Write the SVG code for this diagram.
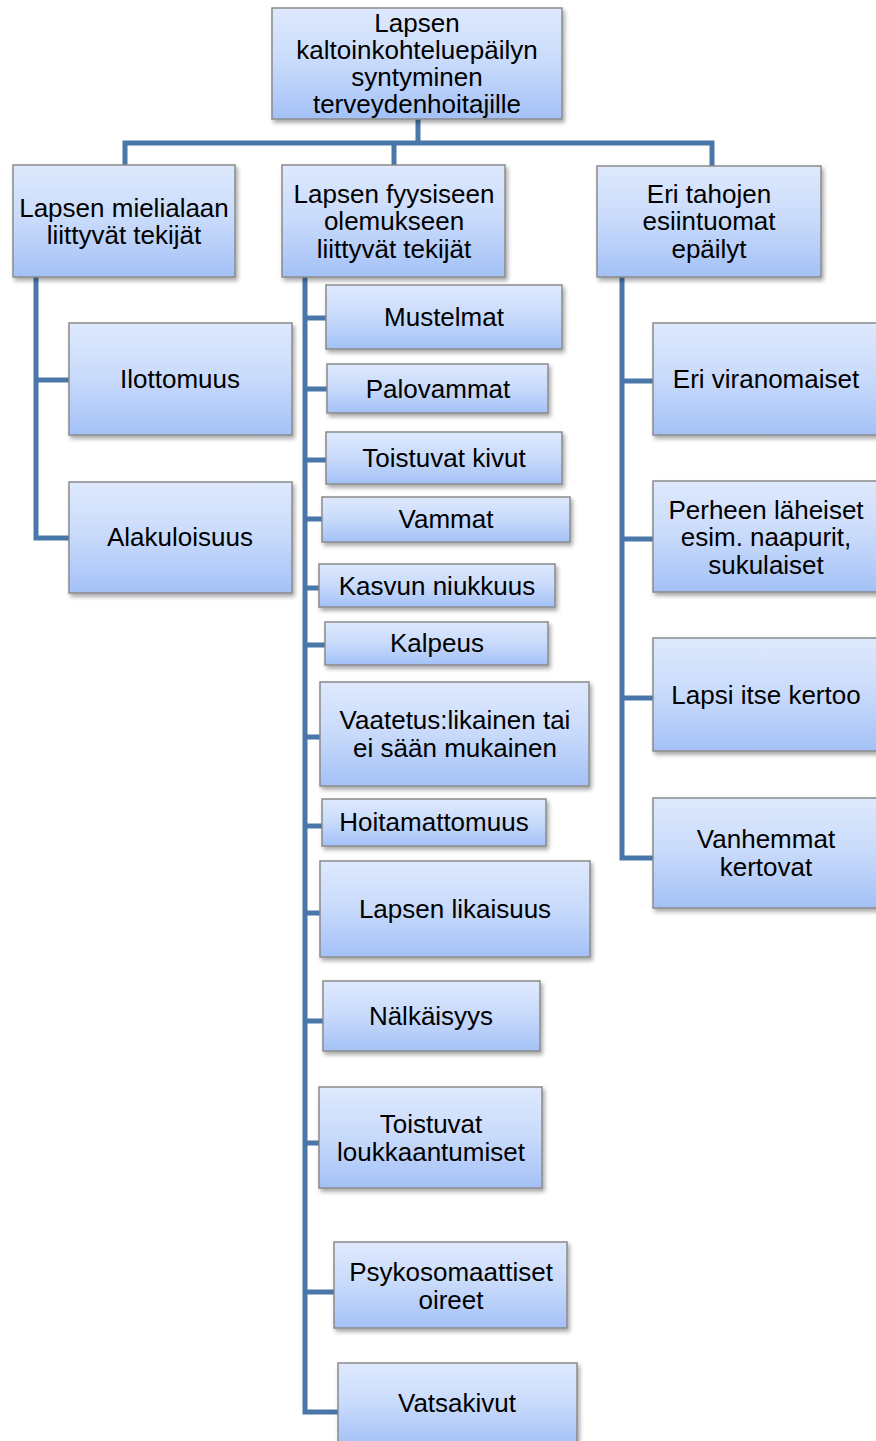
<svg xmlns="http://www.w3.org/2000/svg" width="876" height="1441" viewBox="0 0 876 1441">
<defs>
<linearGradient id="g" x1="0" y1="0" x2="0" y2="1">
<stop offset="0" stop-color="#DEE9FD"/>
<stop offset="0.5" stop-color="#C8DAFB"/>
<stop offset="1" stop-color="#A3C1F7"/>
</linearGradient>
<filter id="sh" x="-10%" y="-10%" width="130%" height="140%">
<feDropShadow dx="2" dy="3" stdDeviation="2" flood-color="#000" flood-opacity="0.35"/>
</filter>
</defs>
<style>
.box{fill:url(#g);stroke:#8A8A8A;stroke-width:1.5;filter:url(#sh)}
.t{font-family:"Liberation Sans",Arial,sans-serif;font-size:26px;fill:#000;text-anchor:middle}
.c{fill:none;stroke:#4A77AA;stroke-width:5;stroke-linejoin:miter;stroke-linecap:butt}
</style>
<rect width="876" height="1441" fill="#fff"/>
<g id="connectors">
<path class="c" d="M418,119 V143"/>
<path class="c" d="M125,165 V143 H712 V166"/>
<path class="c" d="M394,143 V165"/>
<path class="c" d="M36,277 V538 H69"/>
<path class="c" d="M36,380 H69"/>
<path class="c" d="M305,277 V1412 H338"/>
<path class="c" d="M305,318 H326 M305,389 H327 M305,460 H326 M305,519 H322 M305,588 H319 M305,645 H325 M305,737 H320 M305,826 H322 M305,913 H320 M305,1021 H323 M305,1143 H319 M305,1292 H334"/>
<path class="c" d="M622,277 V858 H653"/>
<path class="c" d="M622,381 H653 M622,539 H653 M622,698 H653"/>
</g>
<g id="root"><rect class="box" x="272" y="8" width="290" height="111"/>
<text class="t" x="417" y="32">Lapsen</text><text class="t" x="417" y="59">kaltoinkohteluepäilyn</text><text class="t" x="417" y="86">syntyminen</text><text class="t" x="417" y="113">terveydenhoitajille</text></g>
<g id="left"><rect class="box" x="13" y="165" width="222" height="112"/>
<text class="t" x="124" y="217">Lapsen mielialaan</text><text class="t" x="124" y="244">liittyvät tekijät</text></g>
<g id="mid"><rect class="box" x="282" y="165" width="223" height="112"/>
<text class="t" x="394" y="203">Lapsen fyysiseen</text><text class="t" x="394" y="230">olemukseen</text><text class="t" x="394" y="258">liittyvät tekijät</text></g>
<g id="right"><rect class="box" x="597" y="166" width="224" height="111"/>
<text class="t" x="709" y="203">Eri tahojen</text><text class="t" x="709" y="230">esiintuomat</text><text class="t" x="709" y="258">epäilyt</text></g>
<g id="ilottomuus"><rect class="box" x="69" y="323" width="223" height="112"/><text class="t" x="180" y="388">Ilottomuus</text></g>
<g id="alakuloisuus"><rect class="box" x="69" y="482" width="223" height="111"/><text class="t" x="180" y="546">Alakuloisuus</text></g>
<g id="mustelmat"><rect class="box" x="326" y="285" width="236" height="64"/><text class="t" x="444" y="326">Mustelmat</text></g>
<g id="palovammat"><rect class="box" x="327" y="364" width="221" height="49"/><text class="t" x="438" y="398">Palovammat</text></g>
<g id="kivut"><rect class="box" x="326" y="432" width="236" height="52"/><text class="t" x="444" y="467">Toistuvat kivut</text></g>
<g id="vammat"><rect class="box" x="322" y="497" width="248" height="45"/><text class="t" x="446" y="528">Vammat</text></g>
<g id="kasvun"><rect class="box" x="319" y="564" width="236" height="43"/><text class="t" x="437" y="595">Kasvun niukkuus</text></g>
<g id="kalpeus"><rect class="box" x="325" y="622" width="223" height="43"/><text class="t" x="437" y="652">Kalpeus</text></g>
<g id="vaatetus"><rect class="box" x="320" y="682" width="269" height="104"/><text class="t" x="455" y="729">Vaatetus:likainen tai</text><text class="t" x="455" y="757">ei sään mukainen</text></g>
<g id="hoitamattomuus"><rect class="box" x="322" y="799" width="224" height="47"/><text class="t" x="434" y="831">Hoitamattomuus</text></g>
<g id="likaisuus"><rect class="box" x="320" y="861" width="270" height="96"/><text class="t" x="455" y="918">Lapsen likaisuus</text></g>
<g id="nalkaisyys"><rect class="box" x="323" y="981" width="217" height="70"/><text class="t" x="431" y="1025">Nälkäisyys</text></g>
<g id="loukkaantumiset"><rect class="box" x="319" y="1087" width="223" height="101"/><text class="t" x="431" y="1133">Toistuvat</text><text class="t" x="431" y="1161">loukkaantumiset</text></g>
<g id="psykosomaattiset"><rect class="box" x="334" y="1242" width="233" height="86"/><text class="t" x="451" y="1281">Psykosomaattiset</text><text class="t" x="451" y="1309">oireet</text></g>
<g id="vatsakivut"><rect class="box" x="338" y="1363" width="239" height="82"/><text class="t" x="457" y="1412">Vatsakivut</text></g>
<g id="viranomaiset"><rect class="box" x="653" y="323" width="226" height="112"/><text class="t" x="766" y="388">Eri viranomaiset</text></g>
<g id="laheiset"><rect class="box" x="653" y="481" width="226" height="111"/><text class="t" x="766" y="519">Perheen läheiset</text><text class="t" x="766" y="546">esim. naapurit,</text><text class="t" x="766" y="574">sukulaiset</text></g>
<g id="lapsi"><rect class="box" x="653" y="638" width="226" height="113"/><text class="t" x="766" y="704">Lapsi itse kertoo</text></g>
<g id="vanhemmat"><rect class="box" x="653" y="798" width="226" height="110"/><text class="t" x="766" y="848">Vanhemmat</text><text class="t" x="766" y="876">kertovat</text></g>
</svg>
